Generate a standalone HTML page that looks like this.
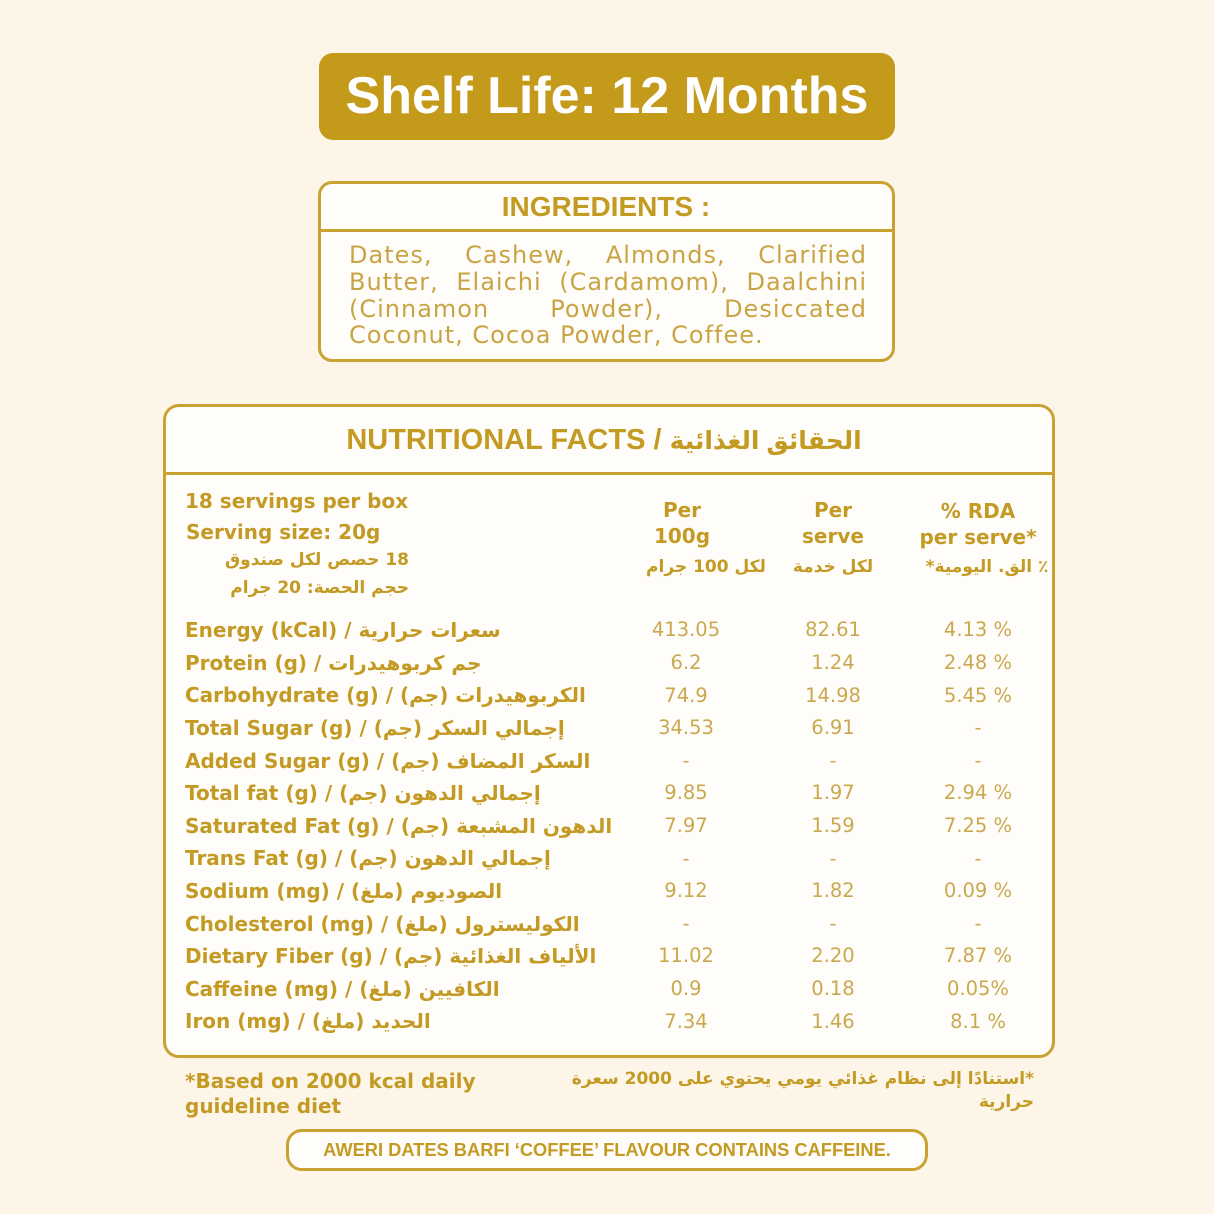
<!DOCTYPE html>
<html>
<head>
<meta charset="utf-8">
<style>
  html,body{margin:0;padding:0;}
  body{width:1214px;height:1214px;background:#fdf6e8;position:relative;overflow:hidden;}
  .abs{position:absolute;white-space:nowrap;}
  .box{position:absolute;box-sizing:border-box;border:3px solid #c9a232;background:#fffdf9;}
  .hr{position:absolute;height:3px;background:#c9a232;}
  .lib{font-family:"Liberation Sans","DejaVu Sans",sans-serif;font-weight:bold;}
  .dj{font-family:"DejaVu Sans",sans-serif;}
  .gold{color:#c39a22;}
  .ing{position:absolute;left:349px;width:518px;font-family:"DejaVu Sans",sans-serif;font-size:24px;line-height:24px;letter-spacing:1px;color:#c8a445;white-space:nowrap;}
  .just{text-align:justify;text-align-last:justify;white-space:normal;}
  .row{position:absolute;left:0;width:1214px;height:22px;}
  .lab{position:absolute;left:185px;top:0;font-family:"DejaVu Sans",sans-serif;font-weight:bold;font-size:20px;line-height:20px;color:#c39a24;white-space:nowrap;}
  .v{position:absolute;top:0.4px;width:160px;text-align:center;font-family:"DejaVu Sans",sans-serif;font-size:19.5px;line-height:19.5px;color:#c9a84e;white-space:nowrap;}
  .c1{left:606px;} .c2{left:753px;} .c3{left:898px;}
  .hd{position:absolute;width:200px;text-align:center;font-family:"DejaVu Sans",sans-serif;font-weight:bold;font-size:20px;line-height:20px;color:#c39a24;white-space:nowrap;}
  .ar{position:absolute;font-family:"DejaVu Sans",sans-serif;font-weight:bold;font-size:17px;line-height:17px;color:#c39a24;white-space:nowrap;}
</style>
</head>
<body>

<!-- Shelf life badge -->
<div class="abs" style="left:319px;top:53px;width:576px;height:87px;background:#c49a1b;border-radius:14px;"></div>
<div class="abs lib" style="left:319px;top:70px;width:576px;text-align:center;font-size:52px;line-height:52px;color:#ffffff;">Shelf Life: 12 Months</div>

<!-- Ingredients box -->
<div class="box" style="left:318px;top:181px;width:577px;height:181px;border-radius:14px;"></div>
<div class="hr" style="left:318px;top:229px;width:577px;"></div>
<div class="abs lib gold" style="left:406px;top:193px;width:400px;text-align:center;font-size:28px;line-height:28px;">INGREDIENTS :</div>
<div class="ing just" style="top:243px;">Dates, Cashew, Almonds, Clarified</div>
<div class="ing just" style="top:270px;">Butter, Elaichi (Cardamom), Daalchini</div>
<div class="ing just" style="top:297px;">(Cinnamon Powder), Desiccated</div>
<div class="ing" style="top:323px;">Coconut, Cocoa Powder, Coffee.</div>

<!-- Nutrition box -->
<div class="box" style="left:163px;top:404px;width:892px;height:654px;border-radius:16px;"></div>
<div class="hr" style="left:163px;top:472px;width:892px;"></div>
<div class="abs lib gold" style="left:304px;top:426px;width:600px;text-align:center;font-size:29px;line-height:29px;">NUTRITIONAL FACTS / <span dir="rtl" style="font-size:25px;">الحقائق الغذائية</span></div>

<!-- Left header -->
<div class="lab" style="top:491px;">18 servings per box</div>
<div class="lab" style="top:522px;left:186px;">Serving size: 20g</div>
<div class="ar" dir="rtl" style="right:805px;top:552px;">18 حصص لكل صندوق</div>
<div class="ar" dir="rtl" style="right:805px;top:580px;">حجم الحصة: 20 جرام</div>

<!-- Column headers -->
<div class="hd" style="left:582px;top:500px;">Per</div>
<div class="hd" style="left:582px;top:526px;">100g</div>
<div class="hd" style="left:733px;top:500px;">Per</div>
<div class="hd" style="left:733px;top:526px;">serve</div>
<div class="hd" style="left:878px;top:501px;">% RDA</div>
<div class="hd" style="left:878px;top:527px;">per serve*</div>
<div class="ar" dir="rtl" style="left:606px;width:200px;text-align:center;top:559px;">لكل 100 جرام</div>
<div class="ar" dir="rtl" style="left:733px;width:200px;text-align:center;top:559px;">لكل خدمة</div>
<div class="ar" dir="rtl" style="left:887px;width:200px;text-align:center;top:559px;">٪ الق. اليومية*</div>

<!-- Rows -->
<div class="row" style="top:620px;"><div class="lab">Energy (kCal) / <span dir="rtl">سعرات حرارية</span></div><div class="v c1">413.05</div><div class="v c2">82.61</div><div class="v c3">4.13 %</div></div>
<div class="row" style="top:652.7px;"><div class="lab">Protein (g) / <span dir="rtl">جم كربوهيدرات</span></div><div class="v c1">6.2</div><div class="v c2">1.24</div><div class="v c3">2.48 %</div></div>
<div class="row" style="top:685.3px;"><div class="lab">Carbohydrate (g) / <span dir="rtl">الكربوهيدرات (جم)</span></div><div class="v c1">74.9</div><div class="v c2">14.98</div><div class="v c3">5.45 %</div></div>
<div class="row" style="top:717.9px;"><div class="lab">Total Sugar (g) / <span dir="rtl">إجمالي السكر (جم)</span></div><div class="v c1">34.53</div><div class="v c2">6.91</div><div class="v c3">-</div></div>
<div class="row" style="top:750.5px;"><div class="lab">Added Sugar (g) / <span dir="rtl">السكر المضاف (جم)</span></div><div class="v c1">-</div><div class="v c2">-</div><div class="v c3">-</div></div>
<div class="row" style="top:783.1px;"><div class="lab">Total fat (g) / <span dir="rtl">إجمالي الدهون (جم)</span></div><div class="v c1">9.85</div><div class="v c2">1.97</div><div class="v c3">2.94 %</div></div>
<div class="row" style="top:815.7px;"><div class="lab">Saturated Fat (g) / <span dir="rtl">الدهون المشبعة (جم)</span></div><div class="v c1">7.97</div><div class="v c2">1.59</div><div class="v c3">7.25 %</div></div>
<div class="row" style="top:848.3px;"><div class="lab">Trans Fat (g) / <span dir="rtl">إجمالي الدهون (جم)</span></div><div class="v c1">-</div><div class="v c2">-</div><div class="v c3">-</div></div>
<div class="row" style="top:880.9px;"><div class="lab">Sodium (mg) / <span dir="rtl">الصوديوم (ملغ)</span></div><div class="v c1">9.12</div><div class="v c2">1.82</div><div class="v c3">0.09 %</div></div>
<div class="row" style="top:913.5px;"><div class="lab">Cholesterol (mg) / <span dir="rtl">الكوليسترول (ملغ)</span></div><div class="v c1">-</div><div class="v c2">-</div><div class="v c3">-</div></div>
<div class="row" style="top:946.1px;"><div class="lab">Dietary Fiber (g) / <span dir="rtl">الألياف الغذائية (جم)</span></div><div class="v c1">11.02</div><div class="v c2">2.20</div><div class="v c3">7.87 %</div></div>
<div class="row" style="top:978.7px;"><div class="lab">Caffeine (mg) / <span dir="rtl">الكافيين (ملغ)</span></div><div class="v c1">0.9</div><div class="v c2">0.18</div><div class="v c3">0.05%</div></div>
<div class="row" style="top:1011.3px;"><div class="lab">Iron (mg) / <span dir="rtl">الحديد (ملغ)</span></div><div class="v c1">7.34</div><div class="v c2">1.46</div><div class="v c3">8.1 %</div></div>

<!-- Footer notes -->
<div class="lab" style="top:1071px;">*Based on 2000 kcal daily</div>
<div class="lab" style="top:1096px;">guideline diet</div>
<div class="ar" dir="rtl" style="right:180px;top:1071px;font-size:17px;line-height:17px;">*استنادًا إلى نظام غذائي يومي يحتوي على 2000 سعرة</div>
<div class="ar" dir="rtl" style="right:180px;top:1094px;font-size:17px;line-height:17px;">حرارية</div>

<!-- Caffeine box -->
<div class="box" style="left:286px;top:1129px;width:642px;height:42px;border-radius:16px;"></div>
<div class="abs lib gold" style="left:286px;top:1141px;width:642px;text-align:center;font-size:18.3px;line-height:18px;">AWERI DATES BARFI ‘COFFEE’ FLAVOUR CONTAINS CAFFEINE.</div>

</body>
</html>
